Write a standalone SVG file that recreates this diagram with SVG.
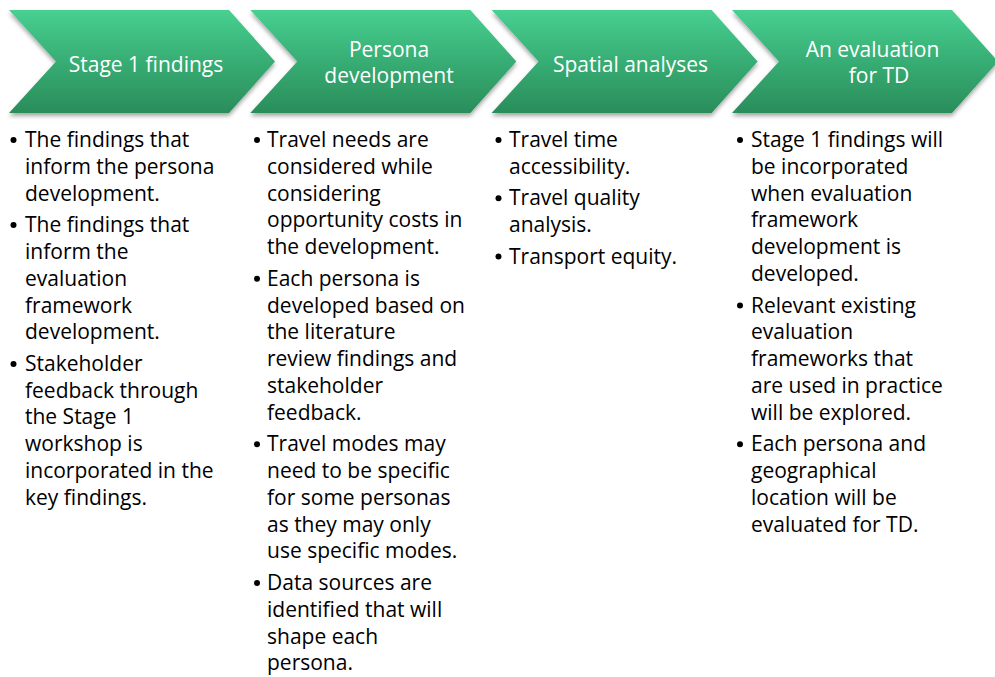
<svg xmlns="http://www.w3.org/2000/svg" width="995" height="677" viewBox="0 0 995 677">
  <style>
    .stage { fill: url(#stageFill); filter: url(#stageShadow); }
    .title { font-family: "Open Sans", "Liberation Sans", sans-serif; font-size: 21px; fill: #ffffff; text-anchor: middle; }
    .body { font-family: "Open Sans", "Liberation Sans", sans-serif; font-size: 21px; fill: #000000; }
    .dot { fill: #000000; }
  </style>
  <defs>
    <linearGradient id="stageFill" x1="0" y1="0" x2="0" y2="1">
      <stop offset="0" stop-color="#48D091"/>
      <stop offset="0.5" stop-color="#37AD74"/>
      <stop offset="1" stop-color="#2A8D5A"/>
    </linearGradient>
    <filter id="stageShadow" x="-5%" y="-10%" width="110%" height="130%">
      <feDropShadow dx="0" dy="3" stdDeviation="2" flood-color="#000000" flood-opacity="0.35"/>
    </filter>
    <!-- chevron outline, origin at its top-left corner -->
    <path id="chevron" d="M0 0 H220 L266 51.5 L220 103 H0 L47 51.5 Z"/>
  </defs>

  <rect width="995" height="677" fill="#ffffff"/>

  <!-- process stages -->
  <g id="stage1">
    <use href="#chevron" class="stage" x="9" y="10"/>
    <text class="title" x="146" y="72">Stage 1 findings</text>
  </g>
  <g id="stage2">
    <use href="#chevron" class="stage" x="250.3" y="10"/>
    <text class="title" x="389" y="57">Persona</text>
    <text class="title" x="389" y="83">development</text>
  </g>
  <g id="stage3">
    <use href="#chevron" class="stage" x="491.6" y="10"/>
    <text class="title" x="630.5" y="72">Spatial analyses</text>
  </g>
  <g id="stage4">
    <use href="#chevron" class="stage" x="732" y="10"/>
    <text class="title" x="872.5" y="57">An evaluation</text>
    <text class="title" x="879" y="83">for TD</text>
  </g>

  <!-- bullet lists under each stage -->
  <g id="notes1">
    <circle class="dot" cx="13.5" cy="140" r="3"/>
    <circle class="dot" cx="13.5" cy="225" r="3"/>
    <circle class="dot" cx="13.5" cy="364" r="3"/>
    <text class="body" x="25">
      <tspan x="25" y="147">The findings that</tspan>
      <tspan x="25" y="173.8">inform the persona</tspan>
      <tspan x="25" y="200.6">development.</tspan>
      <tspan x="25" y="232.1">The findings that</tspan>
      <tspan x="25" y="258.9">inform the</tspan>
      <tspan x="25" y="285.7">evaluation</tspan>
      <tspan x="25" y="312.5">framework</tspan>
      <tspan x="25" y="339.3">development.</tspan>
      <tspan x="25" y="370.8">Stakeholder</tspan>
      <tspan x="25" y="397.6">feedback through</tspan>
      <tspan x="25" y="424.4">the Stage 1</tspan>
      <tspan x="25" y="451.2">workshop is</tspan>
      <tspan x="25" y="478">incorporated in the</tspan>
      <tspan x="25" y="504.8">key findings.</tspan>
    </text>
  </g>

  <g id="notes2">
    <circle class="dot" cx="257" cy="140" r="3"/>
    <circle class="dot" cx="257" cy="278.7" r="3"/>
    <circle class="dot" cx="257" cy="444.2" r="3"/>
    <circle class="dot" cx="257" cy="582.9" r="3"/>
    <text class="body" x="267">
      <tspan x="267" y="147">Travel needs are</tspan>
      <tspan x="267" y="173.8">considered while</tspan>
      <tspan x="267" y="200.6">considering</tspan>
      <tspan x="267" y="227.4">opportunity costs in</tspan>
      <tspan x="267" y="254.2">the development.</tspan>
      <tspan x="267" y="285.7">Each persona is</tspan>
      <tspan x="267" y="312.5">developed based on</tspan>
      <tspan x="267" y="339.3">the literature</tspan>
      <tspan x="267" y="366.1">review findings and</tspan>
      <tspan x="267" y="392.9">stakeholder</tspan>
      <tspan x="267" y="419.7">feedback.</tspan>
      <tspan x="267" y="451.2">Travel modes may</tspan>
      <tspan x="267" y="478">need to be specific</tspan>
      <tspan x="267" y="504.8">for some personas</tspan>
      <tspan x="267" y="531.6">as they may only</tspan>
      <tspan x="267" y="558.4">use specific modes.</tspan>
      <tspan x="267" y="589.9">Data sources are</tspan>
      <tspan x="267" y="616.7">identified that will</tspan>
      <tspan x="267" y="643.5">shape each</tspan>
      <tspan x="267" y="670.3">persona.</tspan>
    </text>
  </g>

  <g id="notes3">
    <circle class="dot" cx="498.5" cy="140" r="3"/>
    <circle class="dot" cx="498.5" cy="198.3" r="3"/>
    <circle class="dot" cx="498.5" cy="256.6" r="3"/>
    <text class="body" x="509">
      <tspan x="509" y="147">Travel time</tspan>
      <tspan x="509" y="173.8">accessibility.</tspan>
      <tspan x="509" y="205.3">Travel quality</tspan>
      <tspan x="509" y="232.1">analysis.</tspan>
      <tspan x="509" y="263.6">Transport equity.</tspan>
    </text>
  </g>

  <g id="notes4">
    <circle class="dot" cx="740" cy="140" r="3"/>
    <circle class="dot" cx="740" cy="305.5" r="3"/>
    <circle class="dot" cx="740" cy="444.2" r="3"/>
    <text class="body" x="751">
      <tspan x="751" y="147">Stage 1 findings will</tspan>
      <tspan x="751" y="173.8">be incorporated</tspan>
      <tspan x="751" y="200.6">when evaluation</tspan>
      <tspan x="751" y="227.4">framework</tspan>
      <tspan x="751" y="254.2">development is</tspan>
      <tspan x="751" y="281">developed.</tspan>
      <tspan x="751" y="312.5">Relevant existing</tspan>
      <tspan x="751" y="339.3">evaluation</tspan>
      <tspan x="751" y="366.1">frameworks that</tspan>
      <tspan x="751" y="392.9">are used in practice</tspan>
      <tspan x="751" y="419.7">will be explored.</tspan>
      <tspan x="751" y="451.2">Each persona and</tspan>
      <tspan x="751" y="478">geographical</tspan>
      <tspan x="751" y="504.8">location will be</tspan>
      <tspan x="751" y="531.6">evaluated for TD.</tspan>
    </text>
  </g>
</svg>
